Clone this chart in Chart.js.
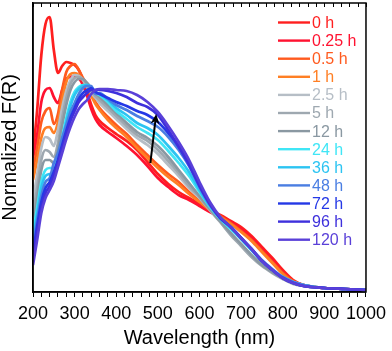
<!DOCTYPE html>
<html>
<head>
<meta charset="utf-8">
<script src="https://cdn.jsdelivr.net/npm/chart.js@4"></script>
<style>
  html, body { margin: 0; padding: 0; background: #fff; }
  #wrap { width: 392px; height: 351px; }
</style>
</head>
<body>
<div id="wrap"><canvas id="spectra"></canvas></div>
<script>
// Wavelength grid (nm) shared by all spectra
const wavelength = [200, 210, 220, 230, 240, 250, 260, 270, 280, 290, 300, 310, 320, 330, 340, 350, 360, 380, 400, 425,
                    450, 475, 500, 525, 550, 575, 600, 625, 650, 675, 700, 725, 750, 775, 800, 825, 850, 900, 950, 1000];

// Normalized F(R), arbitrary units
const s0h   = [139, 182, 237, 268, 275, 242, 219, 226, 230, 229, 227, 222, 212, 200, 187, 177, 171, 164, 158, 151,
               142, 130, 118, 108, 100, 94, 88, 82, 77, 71, 65, 56, 45, 34, 22, 12, 7, 4, 3, 2];
const s025h = [134, 157, 190, 202, 204, 195, 189, 202, 213, 215, 216, 214, 207, 196, 183, 173, 167, 160, 154, 146,
               137, 126, 114, 105, 97, 92, 86, 80, 75, 70, 63, 54, 43, 32, 20, 11, 7, 4, 3, 2];
const s05h  = [122, 144, 170, 181, 184, 168, 178, 202, 220, 226, 228, 222, 214, 207, 199, 190, 184, 175, 167, 158,
               147, 137, 127, 118, 110, 100, 91, 83, 76, 69, 61, 52, 41, 30, 19, 11, 7, 4, 3, 2];
const s1h   = [112, 132, 154, 164, 165, 159, 170, 192, 210, 218, 219, 217, 212, 204, 196, 188, 182, 172, 164, 155,
               144, 134, 124, 115, 107, 98, 90, 82, 75, 68, 60, 51, 40, 29, 18, 10, 7, 4, 3, 2];
const s25h  = [92, 117, 144, 155, 153, 146, 162, 184, 201, 212, 217, 216, 212, 205, 199, 194, 189, 181, 173, 163,
               154, 147, 138, 127, 116, 104, 94, 82, 70, 58, 47, 36, 27, 20, 14, 9, 6, 4, 3, 2];
const s5h   = [80, 104, 132, 142, 140, 135, 149, 174, 194, 208, 214, 215, 213, 207, 201, 196, 192, 184, 176, 166,
               157, 151, 142, 131, 119, 106, 95, 82, 70, 57, 46, 35, 26, 19, 13, 8, 6, 4, 3, 2];
const s12h  = [70, 94, 122, 132, 132, 129, 142, 166, 187, 202, 210, 213, 213, 209, 204, 199, 195, 187, 179, 169,
               160, 154, 146, 135, 122, 109, 96, 83, 71, 59, 48, 37, 27, 20, 14, 9, 6, 4, 3, 2];
const s24h  = [60, 84, 110, 122, 124, 124, 135, 154, 174, 190, 200, 205, 207, 207, 204, 199, 197, 190, 181, 173,
               165, 159, 152, 141, 129, 116, 100, 85, 73, 63, 53, 42, 31, 22, 15, 10, 7, 4, 3, 2];
const s36h  = [54, 78, 104, 116, 118, 120, 132, 150, 170, 186, 197, 203, 206, 207, 205, 200, 198, 192, 184, 177,
               169, 164, 157, 146, 134, 120, 102, 86, 74, 64, 53, 42, 31, 22, 15, 10, 7, 4, 3, 2];
const s48h  = [47, 72, 96, 110, 114, 129, 139, 154, 167, 180, 189, 198, 204, 206, 206, 198, 199, 193, 187, 182,
               176, 171, 165, 155, 142, 126, 105, 87, 74, 65, 54, 43, 32, 23, 15, 10, 7, 4, 3, 2];
const s72h  = [40, 66, 90, 104, 110, 120, 132, 147, 161, 174, 184, 193, 199, 202, 204, 200, 198, 194, 190, 186,
               181, 177, 170, 159, 146, 129, 107, 88, 74, 65, 54, 43, 31, 22, 14, 9, 6, 4, 3, 2];
const s96h  = [34, 60, 84, 99, 106, 117, 130, 144, 158, 171, 181, 190, 195, 199, 202, 202, 202, 201, 199, 195,
               189, 185, 177, 162, 145, 127, 106, 88, 74, 65, 54, 43, 31, 22, 14, 9, 6, 4, 3, 2];
const s120h = [27, 52, 79, 94, 102, 111, 125, 139, 153, 165, 175, 183, 188, 192, 198, 202, 203, 203, 202, 201,
               197, 190, 180, 166, 150, 132, 110, 90, 75, 65, 54, 43, 31, 22, 14, 9, 6, 4, 3, 2];

const timeLabels = ['0 h', '0.25 h', '0.5 h', '1 h', '2.5 h', '5 h', '12 h', '24 h', '36 h', '48 h', '72 h', '96 h', '120 h'];
const seriesList = [s0h, s025h, s05h, s1h, s25h, s5h, s12h, s24h, s36h, s48h, s72h, s96h, s120h];
const seriesColors = ['#ff1f1f', '#ff1230', '#ff5a1e', '#ff7f24', '#b6bec6', '#9ea8b0', '#8a98a2',
                      '#40e6f6', '#2cc4f2', '#4a7ee2', '#2438e6', '#3e30dc', '#5a40d8'];

const xTickLabels = [200, 300, 400, 500, 600, 700, 800, 900, 1000];

// Arrow annotation (data units)
const arrowFrom = { x: 482, y: 129 };
const arrowTo = { x: 496, y: 178 };

Chart.defaults.font.family = '"Liberation Sans", Arial, sans-serif';
Chart.defaults.color = '#000';

const decorPlugin = {
    id: 'decor',
    afterDraw(chart) {
        const { ctx, chartArea: a, scales: { x, y } } = chart;
        ctx.save();

        // frame
        ctx.strokeStyle = '#000';
        ctx.lineWidth = 1.5;
        ctx.strokeRect(a.left, a.top, a.right - a.left, a.bottom - a.top);

        // inward ticks on top edge
        ctx.lineWidth = 1;
        x.ticks.forEach(t => {
            const px = Math.round(x.getPixelForValue(t.value)) + 0.5;
            ctx.beginPath();
            ctx.moveTo(px, a.top);
            ctx.lineTo(px, a.top + 4);
            ctx.stroke();
        });

        // arrow
        const x1 = x.getPixelForValue(arrowFrom.x), y1 = y.getPixelForValue(arrowFrom.y);
        const x2 = x.getPixelForValue(arrowTo.x), y2 = y.getPixelForValue(arrowTo.y);
        const ang = Math.atan2(y2 - y1, x2 - x1);
        ctx.lineWidth = 2;
        ctx.beginPath();
        ctx.moveTo(x1, y1);
        ctx.lineTo(x2 - 4 * Math.cos(ang), y2 - 4 * Math.sin(ang));
        ctx.stroke();
        ctx.fillStyle = '#000';
        ctx.beginPath();
        ctx.moveTo(x2, y2);
        ctx.lineTo(x2 - 10 * Math.cos(ang) + 4.5 * Math.sin(ang), y2 - 10 * Math.sin(ang) - 4.5 * Math.cos(ang));
        ctx.lineTo(x2 - 7 * Math.cos(ang), y2 - 7 * Math.sin(ang));
        ctx.lineTo(x2 - 10 * Math.cos(ang) - 4.5 * Math.sin(ang), y2 - 10 * Math.sin(ang) + 4.5 * Math.cos(ang));
        ctx.closePath();
        ctx.fill();

        // legend
        ctx.font = '16px "Liberation Sans", Arial, sans-serif';
        ctx.textBaseline = 'middle';
        ctx.textAlign = 'left';
        timeLabels.forEach((label, i) => {
            const rowY = 22.5 + i * 18.1;
            ctx.strokeStyle = seriesColors[i];
            ctx.lineWidth = 2.4;
            ctx.beginPath();
            ctx.moveTo(278, rowY);
            ctx.lineTo(310, rowY);
            ctx.stroke();
            ctx.fillStyle = seriesColors[i];
            ctx.fillText(label, 312, rowY + 1);
        });

        ctx.restore();
    }
};

new Chart(document.getElementById('spectra'), {
    type: 'line',
    data: {
        datasets: seriesList.map((s, i) => ({
            label: timeLabels[i],
            data: wavelength.map((w, j) => ({ x: w, y: s[j] })),
            borderColor: seriesColors[i],
            borderWidth: 2.7,
            pointRadius: 0,
            cubicInterpolationMode: 'monotone',
            fill: false,
            order: seriesList.length - i
        }))
    },
    options: {
        responsive: true,
        maintainAspectRatio: false,
        animation: false,
        layout: { padding: { top: 3, right: 22, left: 0, bottom: 0 } },
        plugins: {
            legend: { display: false },
            tooltip: { enabled: false }
        },
        scales: {
            x: {
                type: 'linear',
                min: 200,
                max: 1000,
                afterFit: (scale) => { scale.height = 59; },
                ticks: {
                    stepSize: 20,
                    autoSkip: false,
                    maxRotation: 0,
                    padding: 6,
                    font: { size: 18 },
                    color: '#000',
                    callback: (value) => xTickLabels.includes(value) ? String(value) : ''
                },
                grid: { display: true, drawOnChartArea: false, drawTicks: true, tickLength: 5, color: '#000', lineWidth: 1 },
                border: { display: true, color: '#000', width: 1.5 },
                title: {
                    display: true,
                    text: 'Wavelength (nm)',
                    font: { size: 20 },
                    color: '#000',
                    padding: { top: 0, bottom: 1 }
                }
            },
            y: {
                min: 0,
                max: 289,
                afterFit: (scale) => { scale.width = 33; },
                ticks: { display: false },
                grid: { display: false },
                border: { display: true, color: '#000', width: 1.5 },
                title: {
                    display: true,
                    text: 'Normalized F(R)',
                    font: { size: 20, lineHeight: 1 },
                    color: '#000',
                    padding: 0
                }
            }
        }
    },
    plugins: [decorPlugin]
});
</script>
</body>
</html>
